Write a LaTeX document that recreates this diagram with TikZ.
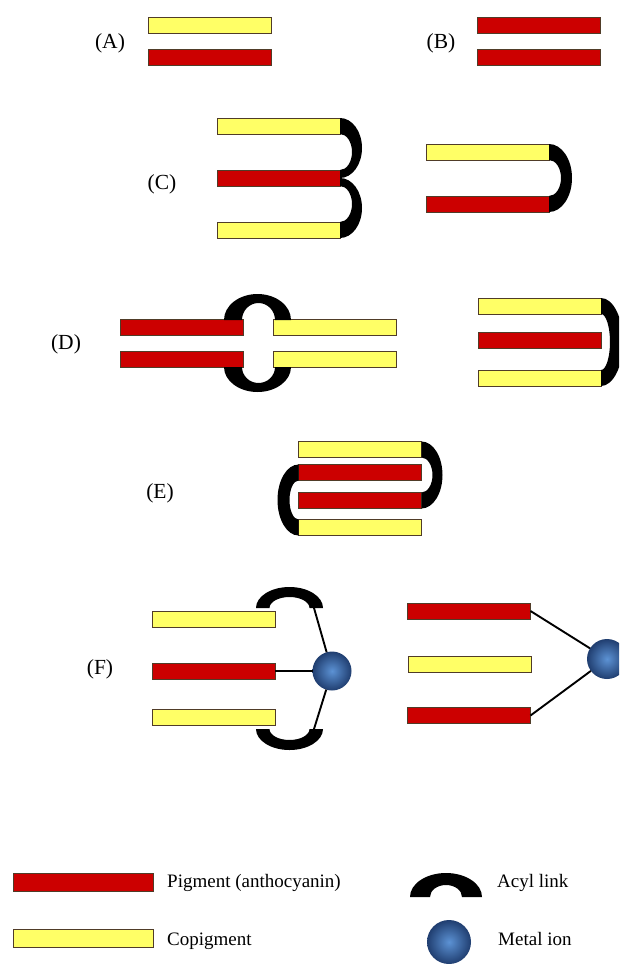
\documentclass[tikz,border=0pt]{standalone}
\usepackage{fontspec}
\setmainfont{Liberation Serif}
\definecolor{pigred}{RGB}{204,0,0}
\definecolor{copyellow}{RGB}{255,255,102}
\definecolor{barline}{RGB}{80,60,40}
\definecolor{ionin}{RGB}{92,146,212}
\definecolor{ionout}{RGB}{32,62,112}
\tikzset{
  pig/.style={rectangle, draw=barline, fill=pigred, minimum width=123pt, minimum height=16pt, inner sep=0pt, outer sep=0pt, line width=0.7pt},
  cop/.style={pig, fill=copyellow},
  acyl/.style={fill=black},
  ion/.style={circle, minimum size=39pt, inner sep=0pt, outer sep=0pt, shading=radial, inner color=ionin, outer color=ionout},
  link/.style={draw=black, line width=1.9pt},
  lab/.style={font=\fontsize{21.5}{24}\selectfont, inner sep=0pt, anchor=base},
  leg/.style={font=\fontsize{19}{22}\selectfont, inner sep=0pt, anchor=base west}
}
\begin{document}
\begin{tikzpicture}[x=1pt,y=-1pt]
\useasboundingbox (0,0) rectangle (619,964);
\clip (0,0) rectangle (619,964);
\fill[white] (0,0) rectangle (619,964);
% (A)
\node[lab] (la) at (110,48) {(A)};
\node[cop] (a1) at (209.5,25) {};
\node[pig] (a2) at (209.5,57) {};
% (B)
\node[lab] (lb) at (441,48) {(B)};
\node[pig] (b1) at (538.5,25) {};
\node[pig] (b2) at (538.5,57) {};
% (C)
\node[lab] (lc) at (162,189) {(C)};
\node[cop] (c1) at (278.5,126) {};
\node[pig] (c2) at (278.5,178) {};
\node[cop] (c3) at (278.5,230) {};
\fill[acyl] (c1.north east) arc[start angle=-90, end angle=90, x radius=22, y radius=30]
  -- (c2.north east) arc[start angle=90, end angle=-90, x radius=12, y radius=18] -- cycle;
\fill[acyl] (c2.east) arc[start angle=-90, end angle=90, x radius=22, y radius=30]
  -- (c3.north east) arc[start angle=90, end angle=-90, x radius=12, y radius=18] -- cycle;
\node[cop] (c4) at (487.5,152) {};
\node[pig] (c5) at (487.5,204) {};
\fill[acyl] (c4.north east) arc[start angle=-90, end angle=90, x radius=23, y radius=34]
  -- (c5.north east) arc[start angle=90, end angle=-90, x radius=12, y radius=18] -- cycle;
% (D)
\node[lab] (ld) at (66,349) {(D)};
\node[pig] (d1) at (181.5,327.5) {};
\node[pig] (d2) at (181.5,359.5) {};
\node[cop] (d3) at (334.5,327.5) {};
\node[cop] (d4) at (334.5,359.5) {};
\fill[acyl] (224,320) arc[start angle=180, end angle=360, x radius=33.5, y radius=26]
  -- (275,320) arc[start angle=0, end angle=-180, x radius=16.5, y radius=17] -- cycle;
\fill[acyl] (224,367) arc[start angle=180, end angle=0, x radius=33.5, y radius=25]
  -- (275,367) arc[start angle=0, end angle=180, x radius=16.5, y radius=16] -- cycle;
\node[cop] (d5) at (539.5,306) {};
\node[pig] (d6) at (539.5,340) {};
\node[cop] (d7) at (539.5,378) {};
\fill[acyl] (d5.north east) arc[start angle=-90, end angle=90, x radius=22, y radius=44]
  -- (d7.north east) arc[start angle=90, end angle=-90, x radius=9, y radius=28] -- cycle;
% (E)
\node[lab] (le) at (160,498) {(E)};
\node[cop] (e1) at (360,449.5) {};
\node[pig] (e2) at (360,472.5) {};
\node[pig] (e3) at (360,500.5) {};
\node[cop] (e4) at (360,527.5) {};
\fill[acyl] (e1.north east) arc[start angle=-90, end angle=90, x radius=21, y radius=33.5]
  -- (e3.north east) arc[start angle=90, end angle=-90, x radius=11, y radius=17.5] -- cycle;
\fill[acyl] (e2.north west) arc[start angle=270, end angle=90, x radius=21, y radius=35.5]
  -- (e4.north west) arc[start angle=90, end angle=270, x radius=9, y radius=19.5] -- cycle;
% (F)
\node[lab] (lf) at (100,674) {(F)};
\node[cop] (f1) at (213.5,619) {};
\node[pig] (f2) at (213.5,671) {};
\node[cop] (f3) at (213.5,717.5) {};
\node[ion] (ion1) at (332,671) {};
\fill[acyl] (256,608) arc[start angle=180, end angle=360, x radius=33.5, y radius=21]
  -- (309.5,608) arc[start angle=0, end angle=-180, x radius=20, y radius=11] -- cycle;
\fill[acyl] (256,729) arc[start angle=180, end angle=0, x radius=33.5, y radius=21]
  -- (309.5,729) arc[start angle=0, end angle=180, x radius=20, y radius=11] -- cycle;
\coordinate (ft) at (314,608);
\coordinate (fb) at (314,729);
\draw[link] (ft) -- (ion1);
\draw[link] (f2.east) -- (ion1);
\draw[link] (fb) -- (ion1);
\node[pig] (f4) at (469,611) {};
\node[cop] (f5) at (470,664) {};
\node[pig] (f6) at (469,715.5) {};
\node[ion, minimum size=40pt] (ion2) at (607,659) {};
\draw[link] (f4.east) -- (ion2);
\draw[link] (f6.east) -- (ion2);
% legend
\node[pig, minimum width=140pt, minimum height=18pt] (lp) at (83.5,882) {};
\node[leg] (tp) at (167,887) {Pigment (anthocyanin)};
\node[cop, minimum width=140pt, minimum height=18pt] (lcp) at (83,938) {};
\node[leg] (tc) at (167,945) {Copigment};
\fill[acyl] (410,897) arc[start angle=180, end angle=360, x radius=36, y radius=24]
  -- (462,897) arc[start angle=0, end angle=-180, x radius=16, y radius=12] -- cycle;
\node[leg] (ta) at (497,887) {Acyl link};
\node[ion, minimum size=44pt] (li) at (449,942) {};
\node[leg] (tm) at (498,945) {Metal ion};
\end{tikzpicture}
\end{document}
